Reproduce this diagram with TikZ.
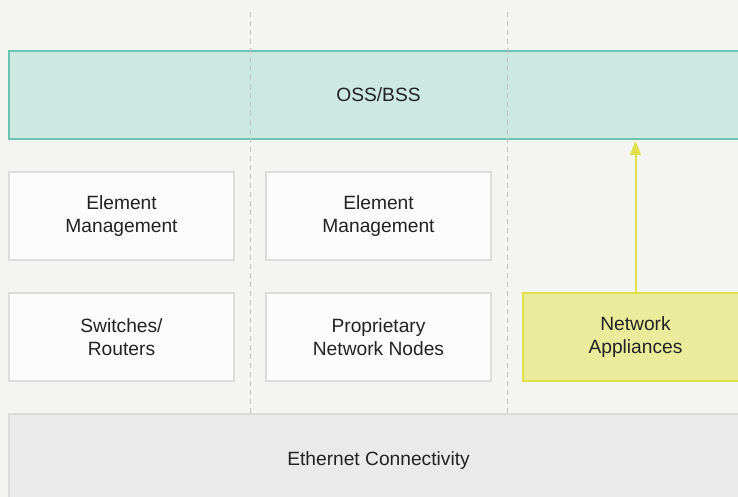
\documentclass[tikz,border=0pt]{standalone}
\usepackage{fontspec}
\setmainfont{Liberation Sans}
\usetikzlibrary{positioning, arrows.meta}
\definecolor{bgcol}{HTML}{F4F4F2}
\definecolor{osscol}{HTML}{CDE8E1}
\definecolor{ossline}{HTML}{6DC3B2}
\definecolor{boxcol}{HTML}{FCFCFC}
\definecolor{boxline}{HTML}{DCDCDC}
\definecolor{appcol}{HTML}{EBEB9C}
\definecolor{appline}{HTML}{E0E04A}
\definecolor{ethcol}{HTML}{EAEAEA}
\definecolor{ethline}{HTML}{DADADA}
\definecolor{dashcol}{HTML}{C2C2C2}
\definecolor{txtcol}{HTML}{222222}
\tikzset{
	box/.style={draw=boxline, fill=boxcol, line width=2pt, minimum width=225pt, minimum height=88pt,
		inner sep=0pt, outer sep=0pt, align=center, text=txtcol, font=\fontsize{19.2}{23}\selectfont},
	wide/.style={box, minimum width=739pt},
	uplink/.style={draw=appline, line width=2pt, -{Triangle[length=14pt,width=11pt]}, shorten >=2pt}
}
\begin{document}
\begin{tikzpicture}[
	x=1pt, y=-1pt,
	node distance=33pt and 32pt,
	divider/.style={draw=dashcol, line width=1.8pt, dash pattern=on 5pt off 4pt}]
	\useasboundingbox (0,0) rectangle (738,497);
	\fill[bgcol] (0,0) rectangle (738,497);
	\clip (0,0) rectangle (738,497);
	\node[wide, draw=ossline, fill=osscol, anchor=north west] (oss) at (9,51) {OSS/BSS};
	\node[box, below right=33pt and 0pt of oss.south west] (em1) {Element\\Management};
	\node[box, right=of em1] (em2) {Element\\Management};
	\node[box, below=of em1] (sr) {Switches/\\Routers};
	\node[box, right=of sr] (pnn) {Proprietary\\Network Nodes};
	\node[box, draw=appline, fill=appcol, right=of pnn] (na) {Network\\Appliances};
	\node[wide, draw=ethline, fill=ethcol, minimum height=94pt, below right=33pt and 0pt of sr.south west] (eth) {Ethernet Connectivity};
	% column dividers
	\foreach \x in {250.5, 507.5}
		\draw[divider] (\x,12) -- (\x,414);
	\draw[uplink] (na.north) -- (na.north |- oss.south);
\end{tikzpicture}
\end{document}
